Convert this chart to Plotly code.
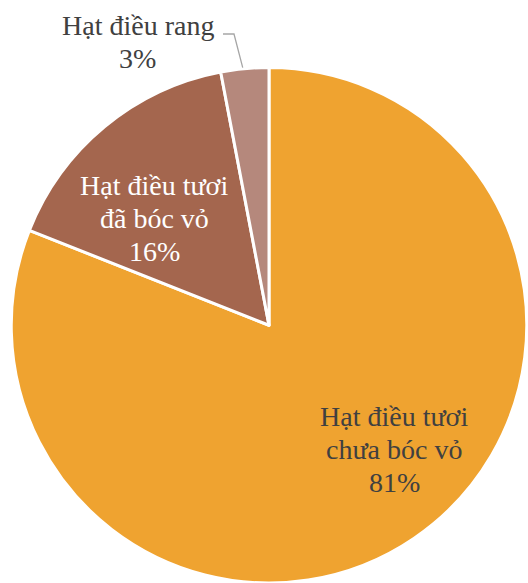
import math
import plotly.graph_objects as go

labels = ["Hạt điều tươi<br>chưa bóc vỏ", "Hạt điều tươi<br>đã bóc vỏ", "Hạt điều rang"]
values = [81, 16, 3]
colors = ["#EFA330", "#A4664E", "#B5887C"]
text_colors = ["#404040", "#FFFFFF", "#404040"]

W, H = 528, 583


def px(x):
    return x / W


def py(y):
    return 1 - y / H


# pie geometry (window pixels)
CX, CY, R = 269, 325.5, 258
# label centre x and first-line baseline y (window pixels), line step
label_pos = [(394, 426), (154, 195), (137.5, 34.5)]
LINE_STEP = 33
FONT_SIZE = 28

fig = go.Figure(go.Pie(
    labels=labels,
    values=values,
    sort=False,
    direction="clockwise",
    rotation=0,
    marker=dict(colors=colors, line=dict(color="white", width=3)),
    textinfo="none",
    domain=dict(x=[px(CX - R), px(CX + R)], y=[max(0.0, py(CY + R)), py(CY - R)]),
    showlegend=False,
    hoverinfo="label+percent",
))

total = sum(values)
annotations = []
for lab, v, col, (lx, ly) in zip(labels, values, text_colors, label_pos):
    lines = lab.split("<br>") + [f"{round(100 * v / total)}%"]
    for i, line in enumerate(lines):
        base = ly + i * LINE_STEP
        annotations.append(dict(
            x=px(lx), y=py(base - 0.3375 * FONT_SIZE), xref="paper", yref="paper",
            text=line, showarrow=False, xanchor="center", yanchor="middle",
            font=dict(family="Liberation Serif", size=FONT_SIZE, color=col),
        ))

# leader line for the small slice, ending at its mid-angle on the rim
cum = sum(values[:2]) + values[2] / 2
theta = 2 * math.pi * cum / total
ex, ey = CX + R * math.sin(theta), CY - R * math.cos(theta)
sx, sy, kx = 223, 34, 234
shapes = [dict(
    type="path", xref="paper", yref="paper",
    path=f"M {px(sx)} {py(sy)} L {px(kx)} {py(sy)} L {px(ex - 2)} {py(ey - 1)}",
    line=dict(color="#A6A6A6", width=1.3),
)]

fig.update_layout(
    width=W, height=H,
    margin=dict(l=0, r=0, t=0, b=0),
    paper_bgcolor="white",
    plot_bgcolor="white",
    annotations=annotations,
    shapes=shapes,
)
fig.write_html(
    "out.html",
    config={"displayModeBar": False},
    post_script="document.body.style.margin='0';document.body.style.overflow='hidden';",
)
